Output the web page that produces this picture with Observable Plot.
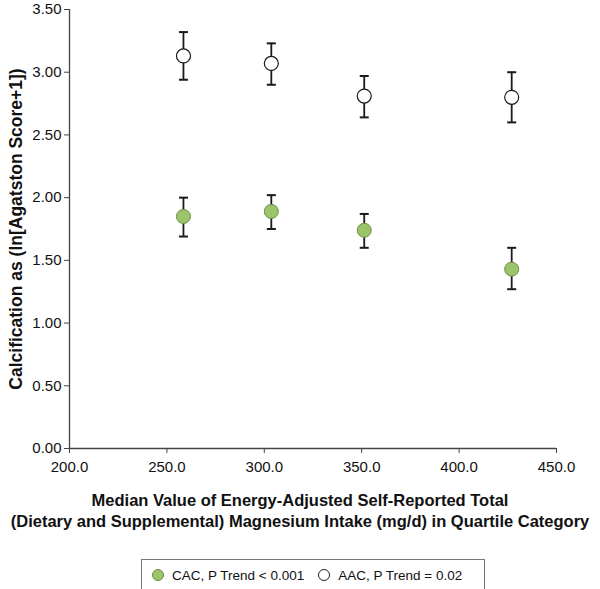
<!DOCTYPE html>
<html>
<head>
<meta charset="utf-8">
<script src="https://cdn.jsdelivr.net/npm/d3@7"></script>
<script src="https://cdn.jsdelivr.net/npm/@observablehq/plot@0.6"></script>
<style>
  html, body { margin: 0; padding: 0; background: #fff; }
  body { width: 600px; height: 589px; overflow: hidden; font-family: "Liberation Sans", Arial, Helvetica, sans-serif; color: #111; }
  #chart svg { display: block; }
  .xtitle { text-align: center; font-weight: bold; font-size: 16.5px; line-height: 21px; margin-top: 10px; width: 620px; margin-left: -10px; white-space: nowrap; }
  .legend { position: absolute; left: 141px; top: 559px; width: 344px; height: 32px; border: 1px solid #777; box-sizing: border-box; font-size: 13.5px; display: flex; align-items: center; }
  .legend .item { display: flex; align-items: center; }
  .legend .sw { width: 12px; height: 12px; border-radius: 50%; box-sizing: border-box; margin-right: 8px; }
</style>
</head>
<body>
<div id="chart"></div>
<div class="xtitle">Median Value of Energy-Adjusted Self-Reported Total<br>(Dietary and Supplemental) Magnesium Intake (mg/d) in Quartile Category</div>
<div class="legend">
  <div class="item" style="margin-left:10px"><span class="sw" style="background:#9cc46a;border:1px solid #6f8f45"></span>CAC, P Trend &lt; 0.001</div>
  <div class="item" style="margin-left:14px"><span class="sw" style="background:#fff;border:1.2px solid #222"></span>AAC, P Trend = 0.02</div>
</div>
<script>
const intake = [258.5, 303.6, 351.3, 427.0];
const cacMean = [1.85, 1.89, 1.74, 1.43];
const cacLow  = [1.69, 1.75, 1.60, 1.27];
const cacHigh = [2.00, 2.02, 1.87, 1.60];
const aacMean = [3.13, 3.07, 2.81, 2.80];
const aacLow  = [2.94, 2.90, 2.64, 2.60];
const aacHigh = [3.32, 3.23, 2.97, 3.00];
const xTicks = [200, 250, 300, 350, 400, 450];
const yTicks = [0, 0.5, 1, 1.5, 2, 2.5, 3, 3.5];

const rows = [];
intake.forEach((x, i) => {
  rows.push({series: "CAC", x, y: cacMean[i], lo: cacLow[i], hi: cacHigh[i]});
  rows.push({series: "AAC", x, y: aacMean[i], lo: aacLow[i], hi: aacHigh[i]});
});

const capSymbol = {
  draw(context, size) {
    const w = 4.5;
    context.moveTo(-w, 0);
    context.lineTo(w, 0);
  }
};

const chart = Plot.plot({
  width: 600,
  height: 480,
  marginLeft: 69,
  marginRight: 44,
  marginTop: 9,
  marginBottom: 32,
  style: {fontFamily: '"Liberation Sans", Arial, Helvetica, sans-serif', fontSize: "15px", color: "#111", background: "#fff", overflow: "visible"},
  x: {domain: [200, 450]},
  y: {domain: [0, 3.5]},
  marks: [
    Plot.axisX({ticks: xTicks, tickFormat: d3.format(".1f"), tickSize: 5, tickPadding: 8, label: null, stroke: "#444", fontSize: 15}),
    Plot.axisY({ticks: yTicks, tickFormat: d3.format(".2f"), tickSize: 5, tickPadding: 3, stroke: "#444", fontSize: 15,
      label: "Calcification as (ln[Agatston Score+1])", labelAnchor: "center", labelArrow: "none", labelOffset: 60}),
    Plot.ruleY([0], {x1: 200, x2: 450, stroke: "#444", strokeWidth: 1.3}),
    Plot.ruleX([200], {y1: 0, y2: 3.5, stroke: "#444", strokeWidth: 1.3}),
    Plot.ruleX(rows, {x: "x", y1: "lo", y2: "hi", stroke: "#1a1a1a", strokeWidth: 1.8}),
    Plot.dot(rows, {x: "x", y: "lo", symbol: capSymbol, r: 4.5, stroke: "#1a1a1a", strokeWidth: 2, fill: "none"}),
    Plot.dot(rows, {x: "x", y: "hi", symbol: capSymbol, r: 4.5, stroke: "#1a1a1a", strokeWidth: 2, fill: "none"}),
    Plot.dot(rows.filter(d => d.series === "CAC"), {x: "x", y: "y", r: 7, fill: "#9cc46a", stroke: "#6f8f45", strokeWidth: 1}),
    Plot.dot(rows.filter(d => d.series === "AAC"), {x: "x", y: "y", r: 7, fill: "#fff", stroke: "#1a1a1a", strokeWidth: 1.2})
  ]
});
chart.querySelectorAll("[aria-label='y-axis label'] text, [aria-label='y-axis label']").forEach(e => { e.style.fontWeight = "bold"; e.style.fontSize = "17.5px"; });
document.getElementById("chart").appendChild(chart);
</script>
</body>
</html>
